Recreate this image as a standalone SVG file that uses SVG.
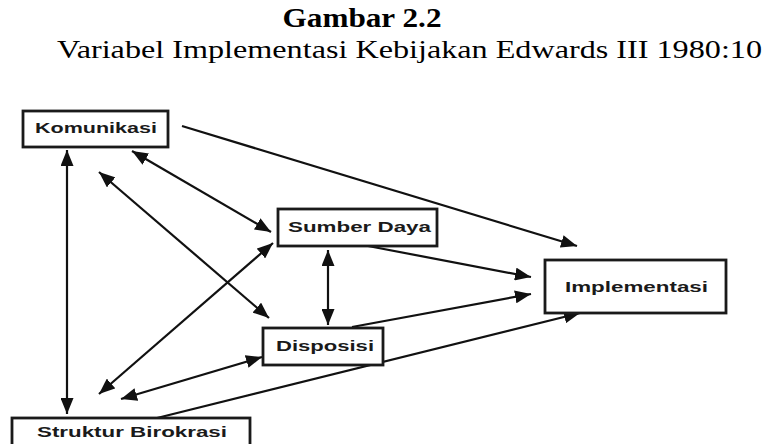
<svg xmlns="http://www.w3.org/2000/svg" width="764" height="444" viewBox="0 0 764 444">
<style>
.box{fill:#fff;stroke:#1a1a1a;stroke-width:2.8}
.lbl{font-family:'Liberation Sans',Arial,sans-serif;font-weight:bold;font-size:15px;fill:#1a1a1a}
.ln{stroke:#111;stroke-width:2.2;fill:none}
.t1{font-family:'Liberation Serif','Times New Roman',serif;font-weight:bold;font-size:28px;fill:#000}
.t2{font-family:'Liberation Serif','Times New Roman',serif;font-size:26px;fill:#000}
</style>
<defs>
<marker id="ah" markerUnits="userSpaceOnUse" markerWidth="16" markerHeight="13" viewBox="0 0 16 13" refX="16" refY="6.5" orient="auto-start-reverse">
<path d="M0,0 L16,6.5 L0,13 z" fill="#111"/>
</marker>
</defs>
<rect width="764" height="444" fill="#fff"/>
<text class="t1" x="362" y="27" text-anchor="middle" textLength="159" lengthAdjust="spacingAndGlyphs">Gambar 2.2</text>
<text class="t2" x="57" y="58" textLength="705" lengthAdjust="spacingAndGlyphs">Variabel Implementasi Kebijakan Edwards III 1980:10</text>
<g id="connectors">
<line class="ln" x1="182" y1="126" x2="577" y2="246" marker-end="url(#ah)"/>
<line class="ln" x1="132" y1="151" x2="271" y2="232" marker-start="url(#ah)" marker-end="url(#ah)"/>
<line class="ln" x1="67" y1="150" x2="67" y2="414" stroke-width="3" marker-start="url(#ah)" marker-end="url(#ah)"/>
<line class="ln" x1="99" y1="172" x2="269" y2="318" marker-start="url(#ah)" marker-end="url(#ah)"/>
<line class="ln" x1="273" y1="243" x2="99" y2="394" marker-start="url(#ah)" marker-end="url(#ah)"/>
<line class="ln" x1="328" y1="250" x2="328" y2="325" stroke-width="3" marker-start="url(#ah)" marker-end="url(#ah)"/>
<line class="ln" x1="262" y1="357" x2="121" y2="399" marker-start="url(#ah)" marker-end="url(#ah)"/>
<line class="ln" x1="368" y1="246" x2="531" y2="277" marker-end="url(#ah)"/>
<line class="ln" x1="352" y1="327" x2="531" y2="294" marker-end="url(#ah)"/>
<line class="ln" x1="157" y1="418" x2="580" y2="313" marker-end="url(#ah)"/>
</g>
<g id="komunikasi">
<rect class="box" x="23" y="111" width="145" height="36"/>
<text class="lbl" x="35" y="133" textLength="122" lengthAdjust="spacingAndGlyphs">Komunikasi</text>
</g>
<g id="sumber-daya">
<rect class="box" x="278" y="209" width="159" height="37"/>
<text class="lbl" x="288" y="232" textLength="143" lengthAdjust="spacingAndGlyphs">Sumber Daya</text>
</g>
<g id="disposisi">
<rect class="box" x="263" y="328" width="120" height="37"/>
<text class="lbl" x="276" y="351" textLength="98" lengthAdjust="spacingAndGlyphs">Disposisi</text>
</g>
<g id="implementasi">
<rect class="box" x="545" y="260" width="181" height="53"/>
<text class="lbl" x="565" y="292" textLength="143" lengthAdjust="spacingAndGlyphs">Implementasi</text>
</g>
<g id="struktur-birokrasi">
<rect class="box" x="12" y="418" width="238" height="40"/>
<text class="lbl" x="37" y="437" textLength="190" lengthAdjust="spacingAndGlyphs">Struktur Birokrasi</text>
</g>
</svg>
